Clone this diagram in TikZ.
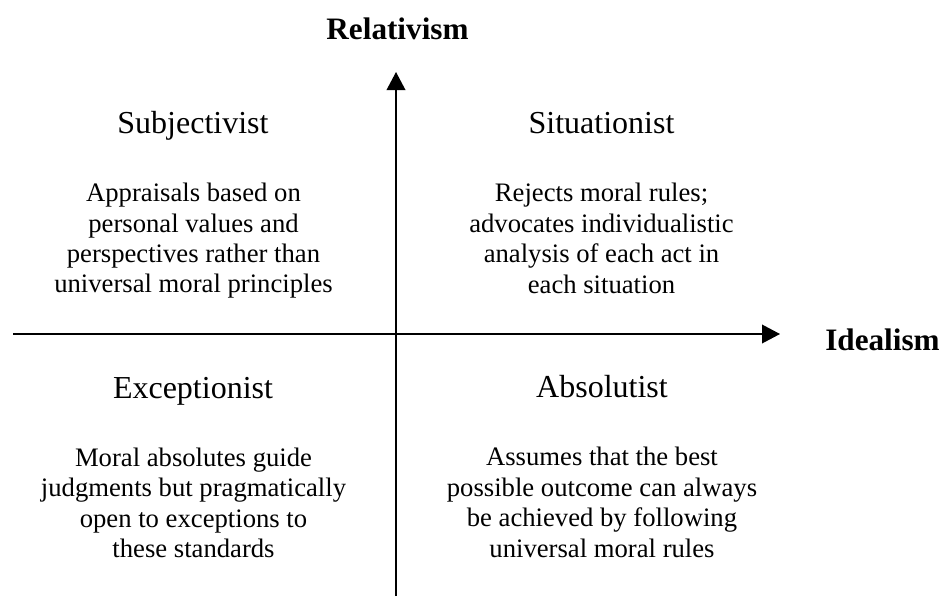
\documentclass[tikz,border=0pt]{standalone}
\usepackage{fontspec}
\setmainfont{Liberation Serif}
\usetikzlibrary{arrows.meta}

\begin{document}
\begin{tikzpicture}[x=0.75pt,y=-0.75pt,
                    axis/.style={line width=1.1pt,-{Triangle[length=13.5pt,width=14pt]}},
                    axislabel/.style={font=\fontsize{23.4}{28}\selectfont\bfseries,anchor=base},
                    quadname/.style={font=\fontsize{24}{28}\selectfont,anchor=base},
                    quadtext/.style={font=\fontsize{20}{22.8}\selectfont,align=center}]
                    \useasboundingbox (0,0) rectangle (944,596);
                    \coordinate (xstart) at (13,334);
                    \coordinate (xend) at (780,334);
                    \coordinate (ystart) at (396,596);
                    \coordinate (yend) at (396,72);
                    \draw [axis] (xstart) -- (xend);
                    \draw [axis] (ystart) -- (yend);
                    \node [axislabel] (relativism) at (397.5,39) {Relativism};
                    \node [axislabel] (idealism) at (882.5,350) {Idealism};
                    \node [quadname] (subjectivist) at (193,133) {Subjectivist};
                    \node [quadname] (situationist) at (601.5,133) {Situationist};
                    \node [quadname] (exceptionist) at (193,398) {Exceptionist};
                    \node [quadname] (absolutist) at (602,397) {Absolutist};
                    \node [quadtext] (subjtext) at (193.5,240.8) {Appraisals based on\\personal values and\\perspectives rather than\\universal moral principles};
                    \node [quadtext] (situtext) at (601.5,238.4) {Rejects moral rules;\\advocates individualistic\\analysis of each act in\\each situation};
                    \node [quadtext] (excptext) at (193.5,502.9) {Moral absolutes guide\\judgments but pragmatically\\open to exceptions to\\these standards};
                    \node [quadtext] (absotext) at (602,502.4) {Assumes that the best\\possible outcome can always\\be achieved by following\\universal moral rules};
                \end{tikzpicture}
\end{document}
